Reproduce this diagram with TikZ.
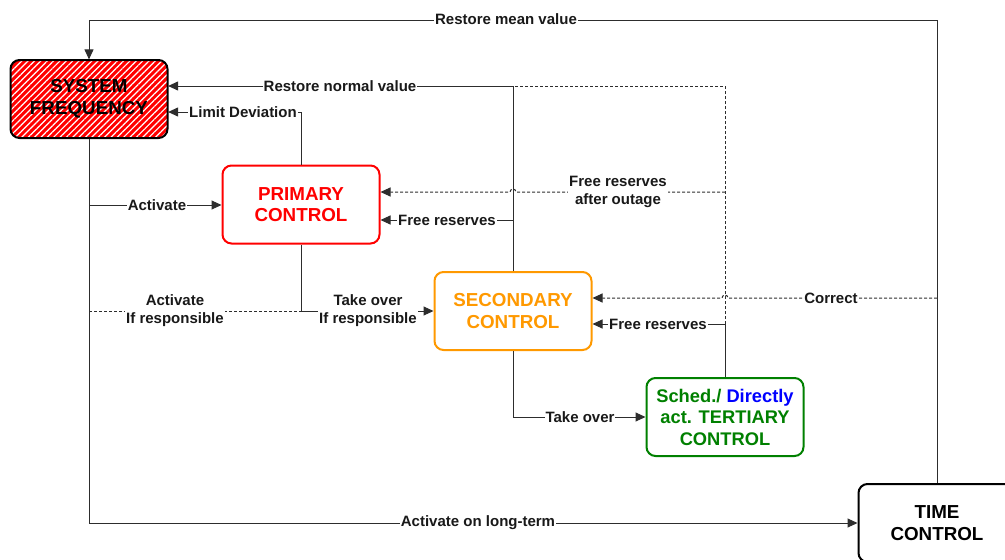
\documentclass[tikz,border=0pt]{standalone}
\usepackage{fontspec}
\setmainfont{Liberation Sans}
\usetikzlibrary{arrows.meta,patterns.meta}
\definecolor{orng}{RGB}{255,153,0}
\definecolor{grn}{RGB}{0,128,0}
\definecolor{blu}{RGB}{0,0,255}
\definecolor{lin}{RGB}{45,45,45}
\begin{document}
\begin{tikzpicture}[x=1pt,y=-1pt,
  box/.style={draw, line width=2pt, rounded corners=9pt, minimum width=157pt, minimum height=78pt, inner sep=2pt, align=center, font=\bfseries\fontsize{18.8}{21.5}\selectfont},
  lbl/.style={fill=white, inner sep=1pt, font=\bfseries\fontsize{15}{18}\selectfont, align=center, text=black!90},
  conn/.style={draw=lin, line width=1pt},
  tip/.style={-{Triangle[length=10pt,width=9pt]}},
  dsh/.style={dash pattern=on 3pt off 2pt}
]
\useasboundingbox (0,0) rectangle (1005,560);

% nodes
\node[box, preaction={fill=red}, pattern={Lines[angle=45,distance=4.5pt,line width=1.2pt]}, pattern color=white] (sf) at (89,99) {SYSTEM\\FREQUENCY};
\node[box, draw=red, text=red, fill=white] (pri) at (301,204.5) {PRIMARY\\CONTROL};
\node[box, draw=orng, text=orng, fill=white] (sec) at (513,311) {SECONDARY\\CONTROL};
\node[box, draw=grn, text=grn, fill=white, font=\bfseries\fontsize{18.3}{21.5}\selectfont] (ter) at (725,417) {Sched./ \textcolor{blu}{Directly}\\act. TERTIARY\\CONTROL};
\node[box, draw=black, text=black, fill=white] (tc) at (937,523) {TIME\\CONTROL};

% junction coordinates
\coordinate (j0) at (937,20);
\coordinate (j0b) at (89,20);
\coordinate (j1) at (513,86);
\coordinate (j2) at (301,112);
\coordinate (j3) at (513,220);
\coordinate (j4) at (89,205);
\coordinate (j5) at (89,523);
\coordinate (j6) at (89,311);
\coordinate (j7) at (301,311);
\coordinate (j8) at (513,417);
\coordinate (j9) at (725,324);
\coordinate (j10) at (725,86);
\coordinate (j11) at (725,192);
\coordinate (j12) at (937,298);

% connectors
\draw[conn,tip] (tc.north) -- (j0) -- (j0b) -- (sf.north);
\draw[conn,tip] (sec.north) -- (j1) -- (sf.east |- j1);
\draw[conn,tip] (pri.north) -- (j2) -- (sf.east |- j2);
\draw[conn,tip] (j3) -- (pri.east |- j3);
\draw[conn,tip] (j4) -- (pri.west |- j4);
\draw[conn,tip] (sf.south) -- (j5) -- (tc.west |- j5);
\draw[conn,dsh] (j6) -- (j7);
\draw[conn,tip] (pri.south) -- (j7) -- (sec.west |- j7);
\draw[conn,tip] (sec.south) -- (j8) -- (ter.west |- j8);
\draw[conn,tip] (ter.north) -- (j9) -- (sec.east |- j9);
\draw[conn,dsh] (j9) -- (j10) -- (j1);
\draw[conn,dsh,tip] (j11) -- (516,192) arc[start angle=0,end angle=180,radius=3pt] -- (pri.east |- j11);
\draw[conn,dsh,tip] (j12) -- (728,298) arc[start angle=0,end angle=180,radius=3pt] -- (sec.east |- j12);

% labels
\node[lbl] (l1) at (506,19) {Restore mean value};
\node[lbl] (l2) at (340,86) {Restore normal value};
\node[lbl] (l3) at (243,112) {Limit Deviation};
\node[lbl] (l4) at (157,205) {Activate};
\node[lbl] (l5) at (447,220) {Free reserves};
\node[lbl] (l6) at (618,192) {Free reserves\\after outage};
\node[lbl] (l7) at (175,311) {Activate\\If responsible};
\node[lbl] (l8) at (368,311) {Take over\\If responsible};
\node[lbl] (l9) at (831,298) {Correct};
\node[lbl] (l10) at (658,324) {Free reserves};
\node[lbl] (l11) at (580,417) {Take over};
\node[lbl] (l12) at (478,523) {Activate on long-term};
\end{tikzpicture}
\end{document}
